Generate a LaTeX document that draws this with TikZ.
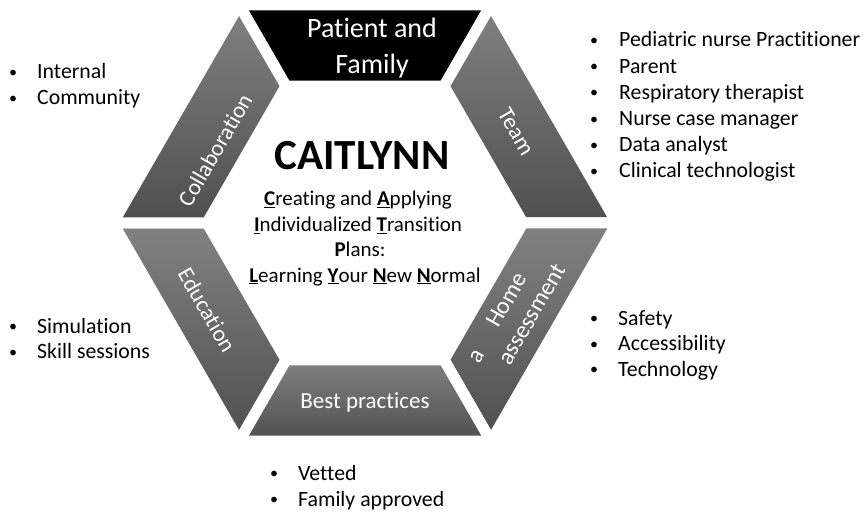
\documentclass[tikz,border=0pt]{standalone}
\usepackage{fontspec}
\setmainfont{Carlito}[Ligatures=NoCommon]
\usetikzlibrary{calc}

\definecolor{segtop}{RGB}{130,130,130}
\definecolor{segbot}{RGB}{78,78,78}

\newcommand{\ini}[1]{\underline{\textbf{#1}}}
\newcommand{\fs}[1]{\fontsize{#1}{#1}\selectfont}

\tikzset{
  seg/.style={draw=white, line width=11pt, top color=segtop, bottom color=segbot},
  seglabel/.style={text=white, font=\fs{23}, align=center, inner sep=0pt},
  motto/.style={anchor=base, font=\fs{21}, inner sep=0pt},
  dot/.style={anchor=base, font=\fs{16}, inner sep=0pt, yshift=1.5pt},
  item/.style={anchor=base west, font=\fs{21.8}, inner sep=0pt},
}

\begin{document}
\begin{tikzpicture}[x=1pt,y=1pt]
  \useasboundingbox (0,0) rectangle (864,512);

  \coordinate (ctr) at (365,289);
  \foreach \a in {0,60,...,300} {
    \coordinate (o\a) at ($(ctr)+(\a:252)$);
    \coordinate (i\a) at ($(ctr)+(\a:158)$);
  }

  % the six blocks of the ring
  \path[seg, top color=black, bottom color=black] (o60) -- (o120) -- (i120) -- (i60) -- cycle;
  \path[seg] (o0) -- (o60) -- (i60) -- (i0) -- cycle;
  \path[seg] (o300) -- (o0) -- (i0) -- (i300) -- cycle;
  \path[seg] (o240) -- (o300) -- (i300) -- (i240) -- cycle;
  \path[seg] (o180) -- (o240) -- (i240) -- (i180) -- cycle;
  \path[seg] (o120) -- (o180) -- (i180) -- (i120) -- cycle;

  \node[seglabel, font=\fontsize{28}{36}\selectfont] (patient) at (372,464) {Patient and\\Family};
  \node[seglabel, rotate=-60] (team) at (516,380) {Team};
  \node[seglabel, rotate=-60] (education) at (207,202) {Education};
  \node[seglabel, rotate=60] (collab) at (215,362) {Collaboration};
  \node[seglabel] (best) at (365,110) {Best practices};
  \node[seglabel, rotate=60, font=\fontsize{24}{29}\selectfont] (home) at (519,205) {Home\\assessment};
  \node[seglabel, rotate=60, font=\fs{24}] (stray) at (477,155) {a};

  % centre
  \node[anchor=base, inner sep=0pt, font=\bfseries\fs{43}] (title) at (362,342) {CAITLYNN};
  \node[motto] (m1) at (358,306) {\ini{C}reating and \ini{A}pplying};
  \node[motto] (m2) at (358,280) {\ini{I}ndividualized \ini{T}ransition};
  \node[motto] (m3) at (360,255) {\textbf{P}lans:};
  \node[motto] (m4) at (365,230) {\ini{L}earning \ini{Y}our \ini{N}ew \ini{N}ormal};

  % lists
  \foreach \t [count=\k] in {Pediatric nurse Practitioner, Parent, Respiratory therapist,
      Nurse case manager, Data analyst, Clinical technologist} {
    \node[dot] (td\k) at (594,465-26.2*\k+26.2) {\textbullet};
    \node[item] (ti\k) at (619,465-26.2*\k+26.2) {\t};
  }
  \foreach \t [count=\k] in {Internal, Community} {
    \node[dot] (cd\k) at (13,433-26*\k+26) {\textbullet};
    \node[item] (ci\k) at (37,433-26*\k+26) {\t};
  }
  \foreach \t [count=\k] in {Simulation, Skill sessions} {
    \node[dot] (ed\k) at (13,179-25.5*\k+25.5) {\textbullet};
    \node[item] (ei\k) at (37,179-25.5*\k+25.5) {\t};
  }
  \foreach \t [count=\k] in {Safety, Accessibility, Technology} {
    \node[dot] (hd\k) at (594,187-25.5*\k+25.5) {\textbullet};
    \node[item] (hi\k) at (618,187-25.5*\k+25.5) {\t};
  }
  \foreach \t [count=\k] in {Vetted, Family approved} {
    \node[dot] (bd\k) at (274,32-26*\k+26) {\textbullet};
    \node[item] (bi\k) at (298,32-26*\k+26) {\t};
  }
\end{tikzpicture}
\end{document}
